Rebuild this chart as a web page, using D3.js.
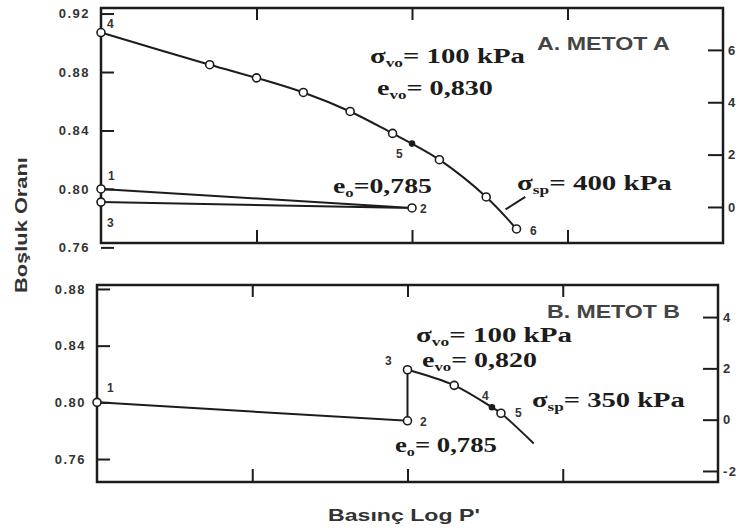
<!DOCTYPE html>
<html>
<head>
<meta charset="utf-8">
<script src="https://cdn.jsdelivr.net/npm/d3@7/dist/d3.min.js"></script>
<style>
  body { margin: 0; background: #fff; }
</style>
</head>
<body>
<div id="chart"></div>
<script>
// Axis ticks
const xTicks = [10, 100, 1000];
const eTicksA = [0.76, 0.80, 0.84, 0.88, 0.92];
const eTicksB = [0.76, 0.80, 0.84, 0.88];
const rTicksA = [0, 2, 4, 6];
const rTicksB = [-2, 0, 2, 4];

// Metot A: loading curve (kPa, void ratio)
const pressA = [1, 5, 10, 20, 40, 75, 100, 150, 300, 470];
const voidA = [0.907, 0.885, 0.876, 0.866, 0.853, 0.838, 0.831, 0.820, 0.7945, 0.7726];
const openA = [1, 1, 1, 1, 1, 1, 0, 1, 1, 1];
// Metot A: path 1 -> 2 -> 3
const pressA0 = [1, 100, 1];
const voidA0 = [0.800, 0.787, 0.791];
// sigma_p leader line
const leadPressA = [400, 535];
const leadVoidA = [0.786, 0.7945];

// Metot B: path 1 -> 2 -> 3
const pressB0 = [1, 100, 100];
const voidB0 = [0.800, 0.787, 0.823];
// Metot B: loading curve (last point has no marker)
const pressB = [100, 200, 350, 400, 650];
const voidB = [0.823, 0.812, 0.7965, 0.7923, 0.771];
const openB = [1, 1, 0, 1];

const W = 741, H = 531;
const ink = '#1c1c1c';
const serif = '"Liberation Serif", "DejaVu Serif", serif';
const sans = '"Liberation Sans", Arial, sans-serif';

const svg = d3.select('#chart').append('svg')
  .attr('width', W)
  .attr('height', H);

// Stretch a text group horizontally so it spans [x0, x1] with baseline y
function fitText(g, x0, x1, y) {
  let b = g.node().getBBox();
  let s = (x1 - x0) / b.width;
  g.attr('transform', `translate(${x0 - b.x * s},${y}) scale(${s},1)`);
}

// Serif formula like  σ_vo= 100 kPa
function formula(main, sub, rest, x0, x1, y) {
  let g = svg.append('g');
  let t = g.append('text')
    .attr('font-family', serif)
    .attr('font-weight', 'bold')
    .attr('font-size', 20)
    .attr('fill', ink);
  t.append('tspan').text(main);
  t.append('tspan').attr('font-size', 12).attr('dy', 4).text(sub);
  t.append('tspan').attr('dy', -4).text(rest);
  fitText(g, x0, x1, y);
}

function plainText(str, x0, x1, y, size, color) {
  let g = svg.append('g');
  g.append('text')
    .attr('font-family', sans)
    .attr('font-weight', 'bold')
    .attr('font-size', size)
    .attr('fill', color)
    .text(str);
  fitText(g, x0, x1, y);
}

function panel(p) {
  let x = d3.scaleLog().domain([1, 10000]).range([p.left, p.right]);
  let y = d3.scaleLinear().domain(p.eDom).range([p.bottom, p.top]);
  let r = d3.scaleLinear().domain(p.rDom).range([p.bottom, p.top]);

  let axisStyle = g => {
    g.select('.domain').remove();
    g.selectAll('line').attr('stroke', ink).attr('stroke-width', 2);
    g.selectAll('text')
      .attr('font-family', sans)
      .attr('font-weight', 'bold')
      .attr('font-size', 13)
      .attr('letter-spacing', 1.5)
      .attr('fill', '#333');
  };

  svg.append('g')
    .attr('transform', `translate(${p.left},0)`)
    .call(d3.axisLeft(y).tickValues(p.eTicks).tickSize(-13).tickPadding(11)
      .tickFormat(d3.format('.2f')))
    .call(axisStyle);
  svg.append('g')
    .attr('transform', `translate(${p.right},0)`)
    .call(d3.axisRight(r).tickValues(p.rTicks).tickSize(-15).tickPadding(5)
      .tickFormat(d => String(d)))
    .call(axisStyle);
  svg.append('g')
    .attr('transform', `translate(0,${p.bottom})`)
    .call(d3.axisBottom(x).tickValues(xTicks).tickSize(-13).tickFormat(''))
    .call(axisStyle);
  svg.append('g')
    .attr('transform', `translate(0,${p.top})`)
    .call(d3.axisTop(x).tickValues(xTicks).tickSize(-12).tickFormat(''))
    .call(axisStyle);

  svg.append('rect')
    .attr('x', p.left)
    .attr('y', p.top)
    .attr('width', p.right - p.left)
    .attr('height', p.bottom - p.top)
    .attr('fill', 'none')
    .attr('stroke', ink)
    .attr('stroke-width', 2.5);

  p.lines.forEach(l => {
    let pts = l.press.map((d, i) => [x(d), y(l.void[i])]);
    svg.append('path')
      .attr('d', d3.line().curve(l.curve || d3.curveLinear)(pts))
      .attr('fill', 'none')
      .attr('stroke', ink)
      .attr('stroke-width', 2);
  });

  p.marks.forEach(m => {
    m.press.forEach((d, i) => {
      let open = m.open ? m.open[i] : 1;
      svg.append('circle')
        .attr('cx', x(d))
        .attr('cy', y(m.void[i]))
        .attr('r', open ? 4 : 2.5)
        .attr('fill', open ? '#fff' : ink)
        .attr('stroke', ink)
        .attr('stroke-width', 1.6);
    });
  });

  p.nums.forEach(n => {
    svg.append('text')
      .attr('x', n[1])
      .attr('y', n[2])
      .attr('font-family', sans)
      .attr('font-weight', 'bold')
      .attr('font-size', 12)
      .attr('fill', '#333')
      .text(n[0]);
  });
}

panel({
  left: 101, right: 723, top: 8, bottom: 243,
  eDom: [0.763, 0.9238], rDom: [-1.376, 7.6],
  eTicks: eTicksA, rTicks: rTicksA,
  lines: [
    { press: pressA0, void: voidA0 },
    { press: [pressA0[2], pressA[0]], void: [voidA0[2], voidA[0]] },
    { press: pressA, void: voidA, curve: d3.curveCatmullRom },
    { press: leadPressA, void: leadVoidA }
  ],
  marks: [
    { press: pressA0, void: voidA0 },
    { press: pressA, void: voidA, open: openA }
  ],
  nums: [['4', 107, 28], ['1', 108, 180], ['3', 107, 227], ['5', 396, 158], ['2', 420, 213], ['6', 530, 235]]
});

panel({
  left: 97, right: 718, top: 285, bottom: 482,
  eDom: [0.7438, 0.8828], rDom: [-2.43, 5.25],
  eTicks: eTicksB, rTicks: rTicksB,
  lines: [
    { press: pressB0, void: voidB0 },
    { press: pressB, void: voidB, curve: d3.curveCatmullRom }
  ],
  marks: [
    { press: pressB0, void: voidB0 },
    { press: pressB.slice(1, 4), void: voidB.slice(1, 4), open: openB.slice(1) }
  ],
  nums: [['1', 107, 392], ['3', 385, 365], ['2', 420, 426], ['4', 482, 400], ['5', 515, 417]]
});

// Annotations, Metot A
plainText('A. METOT A', 537, 670, 50, 18, '#444');
formula('σ', 'vo', '= 100 kPa', 370, 525, 63);
formula('e', 'vo', '= 0,830', 377, 493, 95);
formula('e', 'o', '=0,785', 333, 432, 193);
formula('σ', 'sp', '= 400 kPa', 517, 672, 190);

// Annotations, Metot B
plainText('B. METOT B', 547, 680, 318, 18, '#444');
formula('σ', 'vo', '= 100 kPa', 416, 572, 342);
formula('e', 'vo', '= 0,820', 422, 537, 367);
formula('σ', 'sp', '= 350 kPa', 532, 685, 407);
formula('e', 'o', '= 0,785', 395, 497, 452);

// Axis titles
plainText('Basınç Log P\'', 328, 480, 521, 16, '#333');
let yl = svg.append('g');
yl.append('text')
  .attr('font-family', sans)
  .attr('font-weight', 'bold')
  .attr('font-size', 16)
  .attr('fill', '#333')
  .text('Boşluk Oranı');
let yb = yl.node().getBBox();
let ys = 136 / yb.width;
yl.attr('transform', `translate(27,${293 + yb.x * ys}) rotate(-90) scale(${ys},1)`);
</script>
</body>
</html>
